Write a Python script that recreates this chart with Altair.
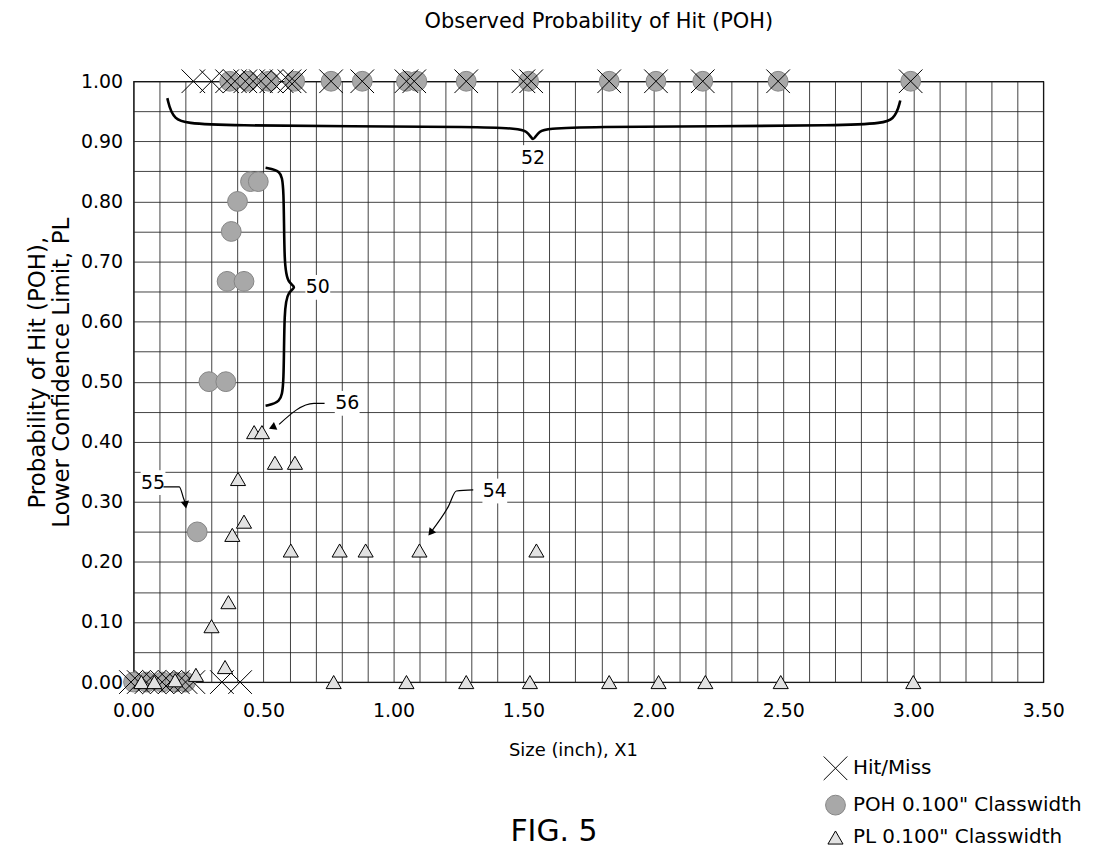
import altair as alt
import pandas as pd

FONT = "DejaVu Sans"

# ---------------- data ----------------
series_names = ["Hit/Miss", 'POH 0.100" Classwidth', 'PL 0.100" Classwidth']

# Hit/Miss observations (X marks): hits at 1.0, misses at 0.0
hit_x = [0.23, 0.30, 0.36, 0.39, 0.43, 0.46, 0.49, 0.53, 0.57, 0.60, 0.62,
         0.76, 0.88, 1.05, 1.08, 1.28, 1.50, 1.53, 1.83, 2.01, 2.19, 2.48, 2.99]
miss_x = [-0.01, 0.02, 0.05, 0.08, 0.11, 0.14, 0.17, 0.20, 0.23, 0.34, 0.41]

# Observed probability of hit, 0.100" classwidth
poh_x = [0.00, 0.05, 0.11, 0.16, 0.20, 0.245, 0.29, 0.355, 0.36, 0.425, 0.376,
         0.40, 0.45, 0.48, 0.37, 0.44, 0.52, 0.62, 0.76, 0.88, 1.05, 1.09,
         1.28, 1.52, 1.83, 2.01, 2.19, 2.48, 2.99]
poh_y = [0.0, 0.0, 0.0, 0.0, 0.0, 0.25, 0.50, 0.50, 0.667, 0.667, 0.75,
         0.80, 0.833, 0.833, 1.0, 1.0, 1.0, 1.0, 1.0, 1.0, 1.0, 1.0,
         1.0, 1.0, 1.0, 1.0, 1.0, 1.0, 1.0]

# Lower confidence limit PL, 0.100" classwidth
pl_x = [0.03, 0.08, 0.16, 0.24, 0.352, 0.30, 0.365, 0.38, 0.425, 0.402,
        0.544, 0.621, 0.464, 0.494, 0.605, 0.793, 0.893, 1.10, 1.55,
        0.77, 1.05, 1.28, 1.525, 1.83, 2.02, 2.20, 2.49, 3.00]
pl_y = [0.0, 0.0, 0.003, 0.012, 0.025, 0.093, 0.133, 0.245, 0.267, 0.338,
        0.365, 0.365, 0.416, 0.416, 0.219, 0.219, 0.219, 0.219, 0.219,
        0.0, 0.0, 0.0, 0.0, 0.0, 0.0, 0.0, 0.0, 0.0]

# axis ticks
x_ticks = [round(i * 0.1, 2) for i in range(36)]
y_ticks = [round(i * 0.05, 2) for i in range(21)]

# annotation reference numerals (in data units)
ann_text = ["50", "52", "54", "55", "56"]
ann_x = [0.709, 1.537, 1.39, 0.075, 0.822]
ann_y = [0.657, 0.873, 0.318, 0.332, 0.464]

# braces (path id, points in data units)
brace_id = [52] * 11 + [50] * 11
brace_x = [0.13, 0.15, 0.24, 1.45, 1.52, 1.537, 1.555, 1.62, 2.85, 2.93, 2.95,
           0.508, 0.565, 0.579, 0.579, 0.595, 0.628, 0.595, 0.579, 0.579, 0.565, 0.508]
brace_y = [0.972, 0.935, 0.925, 0.925, 0.918, 0.897, 0.918, 0.925, 0.925, 0.935, 0.968,
           0.856, 0.852, 0.83, 0.69, 0.664, 0.657, 0.650, 0.625, 0.49, 0.465, 0.460]

# leader lines for 54, 55, 56
lead_id = [56, 56, 56, 54, 54, 54, 54, 55, 55, 55, 55]
lead_x = [0.735, 0.694, 0.560, 1.307, 1.242, 1.211, 1.150, 0.115, 0.176, 0.193, 0.199]
lead_y = [0.464, 0.464, 0.429, 0.320, 0.318, 0.292, 0.253, 0.325, 0.325, 0.305, 0.298]

# arrow heads
arrow_x = [0.534, 1.143, 0.200]
arrow_y = [0.424, 0.2485, 0.295]
arrow_angle = [246, 218, 170]

# ---------------- tables ----------------
rows = []
for x, y in zip(poh_x, poh_y):
    rows.append({"x": x, "y": y, "series": series_names[1], "k": 0})
for x in hit_x:
    rows.append({"x": x, "y": 1.0, "series": series_names[0], "k": 1})
for x in miss_x:
    rows.append({"x": x, "y": 0.0, "series": series_names[0], "k": 1})
for x, y in zip(pl_x, pl_y):
    rows.append({"x": x, "y": y, "series": series_names[2], "k": 2})
df = pd.DataFrame(rows)

ann_df = pd.DataFrame({"x": ann_x, "y": ann_y, "t": ann_text})
brace_df = pd.DataFrame({"x": brace_x, "y": brace_y, "id": brace_id,
                         "i": list(range(len(brace_x)))})
lead_df = pd.DataFrame({"x": lead_x, "y": lead_y, "id": lead_id,
                        "i": list(range(len(lead_x)))})
arrow_df = pd.DataFrame({"x": arrow_x, "y": arrow_y, "a": arrow_angle})

# ---------------- encodings ----------------
xs = alt.Scale(domain=[0, 3.5], nice=False, zero=False)
ys = alt.Scale(domain=[0, 1], nice=False, zero=False)

x_axis = alt.Axis(
    values=x_ticks,
    labelExpr="abs(datum.value*2 - round(datum.value*2)) < 0.001 ? format(datum.value, '.2f') : ''",
    title="Size (inch), X1", titleX=441, titleY=69, titleBaseline="middle",
    titleFontSize=18, labelFontSize=19, labelPadding=20,
)
y_axis = alt.Axis(
    values=y_ticks,
    labelExpr="abs(datum.value*10 - round(datum.value*10)) < 0.001 ? format(datum.value, '.2f') : ''",
    title=["Probability of Hit (POH),", "Lower Confidence Limit, PL"],
    titleX=-96, titleY=292, titleBaseline="middle", titleAngle=270,
    titleFontSize=23, titleLineHeight=24, labelFontSize=19, labelPadding=11,
)
X = alt.X("x:Q", scale=xs, axis=x_axis)
Y = alt.Y("y:Q", scale=ys, axis=y_axis)

X_PATH = "M-1,-1L1,1M-1,1L1,-1"
leg = alt.Legend(title=None, orient="none", legendX=692, legendY=677,
                 labelFontSize=20, labelFont=FONT, rowPadding=10,
                 labelOffset=5, symbolStrokeWidth=1, labelLimit=500)

points = alt.Chart(df).mark_point(filled=True, opacity=1, strokeWidth=1).encode(
    x=X, y=Y,
    shape=alt.Shape("series:N", scale=alt.Scale(domain=series_names,
                    range=[X_PATH, "circle", "triangle-up"]), legend=leg),
    fill=alt.Fill("series:N", scale=alt.Scale(domain=series_names,
                  range=["transparent", "#a8a8a8", "#e2e2e2"]), legend=leg),
    stroke=alt.Stroke("series:N", scale=alt.Scale(domain=series_names,
                      range=["#000000", "#858585", "#000000"]), legend=leg),
    size=alt.Size("series:N", scale=alt.Scale(domain=series_names,
                  range=[560, 230, 170]), legend=leg),
    order=alt.Order("k:Q"),
)

label_bg = alt.Chart(ann_df).mark_point(shape="square", filled=True, fill="white",
                                        stroke=None, opacity=1, size=620).encode(x=X, y=Y)
braces = alt.Chart(brace_df).mark_line(interpolate="basis", color="black",
                                       strokeWidth=2.6).encode(
    x=X, y=Y, detail="id:N", order="i:Q")
leaders = alt.Chart(lead_df).mark_line(color="black", strokeWidth=1.2,
                                       interpolate="monotone").encode(
    x=X, y=Y, detail="id:N", order="i:Q")
arrows = alt.Chart(arrow_df).mark_point(shape="triangle-up", filled=True,
                                        color="black", opacity=1, size=70).encode(
    x=X, y=Y, angle=alt.Angle("a:Q", scale=None))
labels = alt.Chart(ann_df).mark_text(fontSize=19, font=FONT, color="black").encode(
    x=X, y=Y, text="t:N")

text_df = pd.DataFrame({"t": ["Observed Probability of Hit (POH)", "FIG. 5"]})
title_txt = alt.Chart(text_df).transform_filter(
    "datum.t != 'FIG. 5'").mark_text(fontSize=21, font=FONT, color="black").encode(
    text="t:N", x=alt.value(467), y=alt.value(-59))
fig = alt.Chart(text_df).transform_filter(
    "datum.t == 'FIG. 5'").mark_text(fontSize=30, font=FONT, color="black").encode(
    text="t:N", x=alt.value(422), y=alt.value(753))

chart = alt.layer(label_bg, braces, leaders, points, arrows, labels,
                  title_txt, fig).properties(
    width=913, height=603,
    autosize=alt.AutoSizeParams(type="none"),
    padding={"left": 126, "top": 72, "right": 64, "bottom": 167},
).configure_view(stroke="black", strokeWidth=1.2).configure_axis(
    domain=False, ticks=False, grid=True, gridColor="#222222", gridWidth=1,
    gridOpacity=0.85, labelFont=FONT, titleFont=FONT, labelColor="black",
    titleColor="black", titleFontWeight="normal", labelOverlap=False,
    labelFlush=False,
)

chart.save("out.html", embed_options={"renderer": "svg", "actions": False})
